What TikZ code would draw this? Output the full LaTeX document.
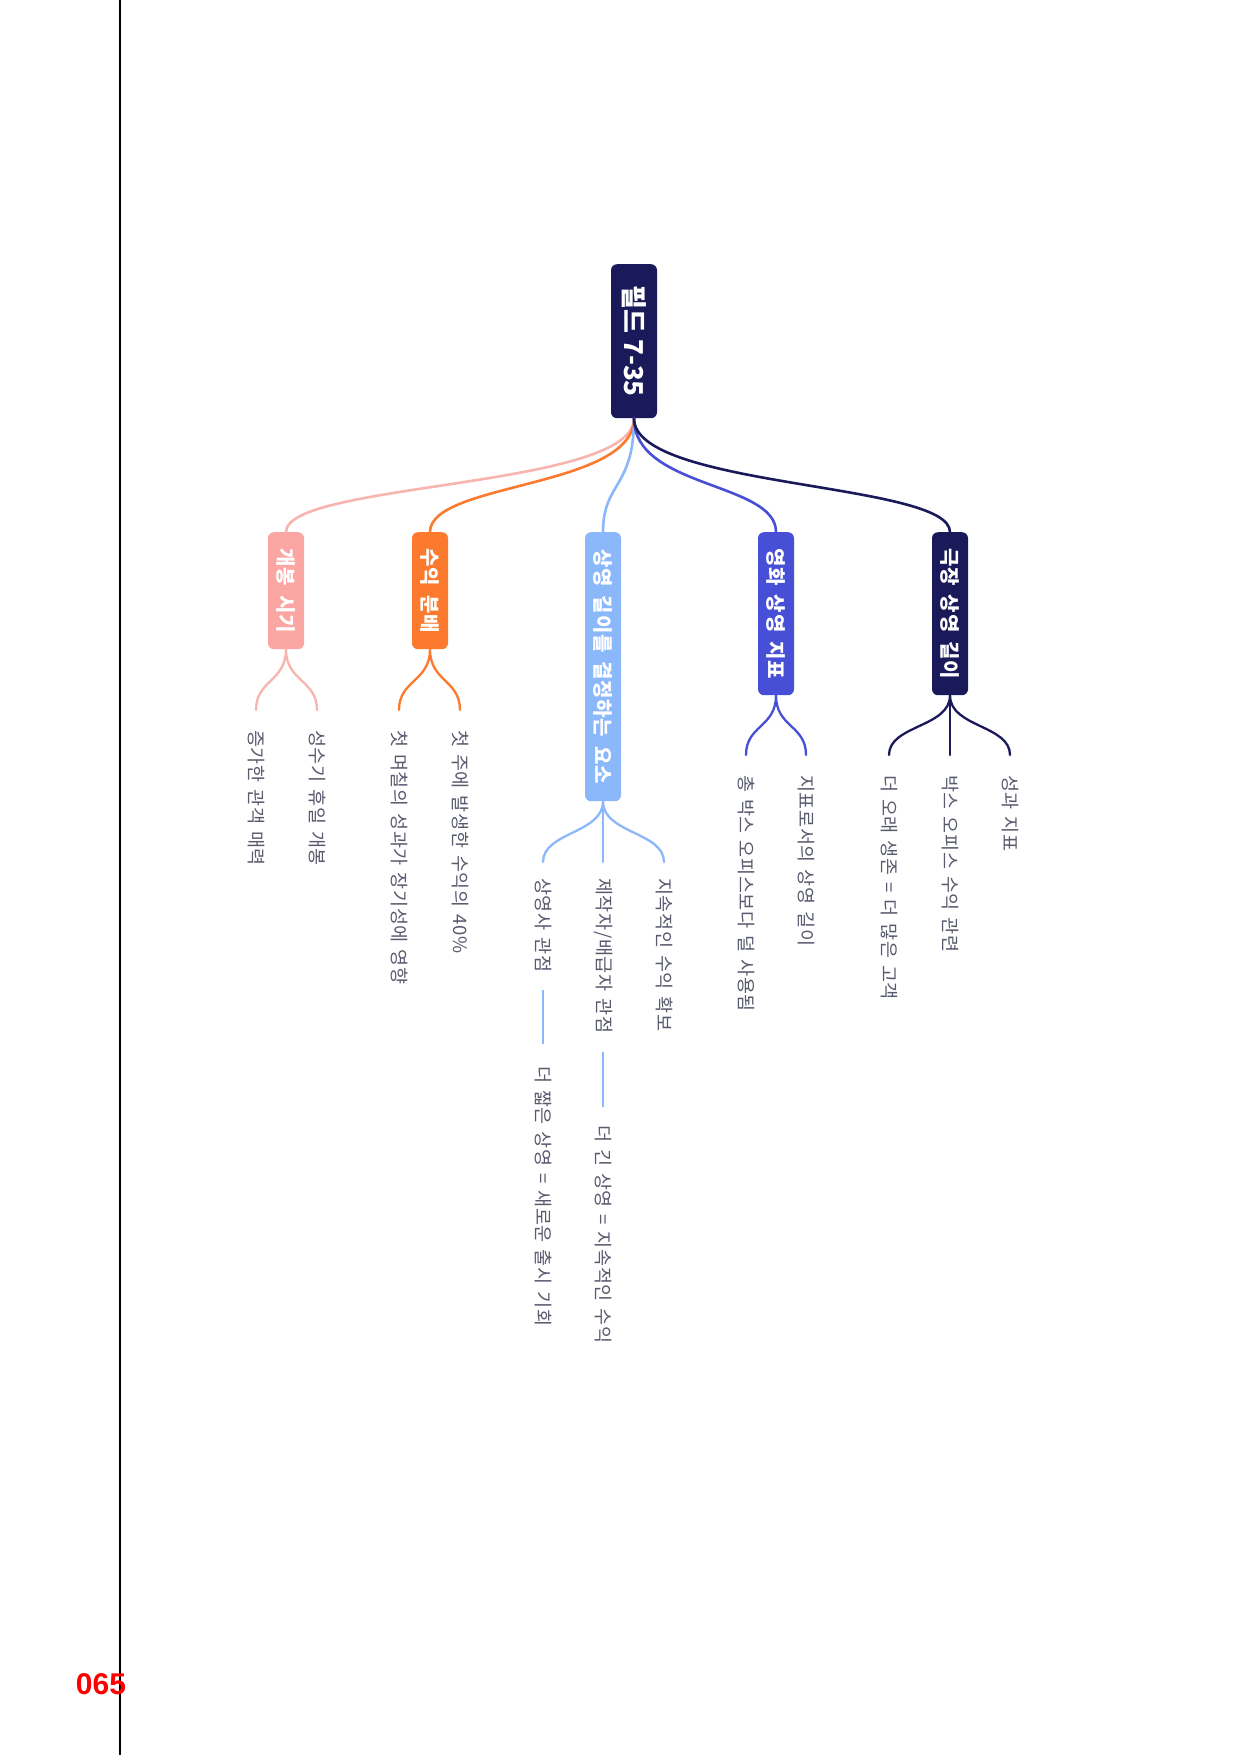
\documentclass[tikz,border=0pt]{standalone}
\usepackage{fontspec}
\setmainfont{Liberation Sans}
\newfontfamily\kr{Noto Sans CJK KR}
\newfontfamily\krl[LetterSpace=4,WordSpace=1.6]{Noto Sans CJK KR}
\newfontfamily\krleaf[LetterSpace=3.5,WordSpace=1.45]{Noto Sans CJK KR}
\definecolor{cpink}{HTML}{FBA6A2}
\definecolor{cpinkl}{HTML}{F8B5AF}
\definecolor{corange}{HTML}{FB7A2E}
\definecolor{clblue}{HTML}{8BB7FB}
\definecolor{cblue}{HTML}{474FD6}
\definecolor{cnavy}{HTML}{1A1A5B}
\definecolor{ctext}{HTML}{585A6E}
\definecolor{cred}{HTML}{FF0000}
\tikzset{
  box/.style={rotate=-90, anchor=west, rounded corners=6pt, inner sep=0pt, text=white,
    font=\krl\bfseries\fontsize{20}{20}\selectfont, minimum height=36pt},
  leaf/.style={rotate=-90, anchor=west, inner sep=0pt, text=ctext,
    font=\krleaf\fontsize{18.5}{19}\selectfont},
  conn/.style={line width=2.6pt, line cap=round},
  subconn/.style={line width=2.3pt, line cap=round},
}
\begin{document}
\begin{tikzpicture}[x=1pt,y=-1pt]
\fill[white] (0,0) rectangle (1241,1755);
\useasboundingbox (0,0) rectangle (1241,1755);
\draw[line width=1.2pt, black] (120,0) -- (120,1755);
\node[text=cred, font=\bfseries\fontsize{30}{30}\selectfont, inner sep=0pt] (pg) at (101,1684) {065};

% root
\node[box, fill=cnavy, minimum width=154pt, minimum height=46pt,
  font=\kr\bfseries\fontsize{26}{26}\selectfont] (root) at (634,264) {필드 7-35};

% branches
\node[box, fill=cpink, minimum width=117pt] (b1) at (286,532) {개봉 시기};
\node[box, fill=corange, minimum width=117pt] (b2) at (430,532) {수익 분배};
\node[box, fill=clblue, minimum width=269pt] (b3) at (603,532) {상영 길이를 결정하는 요소};
\node[box, fill=cblue, minimum width=163pt] (b4) at (776,532) {영화 상영 지표};
\node[box, fill=cnavy, minimum width=163pt] (b5) at (950,532) {극장 상영 길이};

\draw[conn, cpinkl] (root.east) .. controls +(0,70) and +(0,-50) .. (b1.west);
\draw[conn, corange] (root.east) .. controls +(0,70) and +(0,-50) .. (b2.west);
\draw[conn, clblue] (root.east) .. controls +(0,70) and +(0,-50) .. (b3.west);
\draw[conn, cblue] (root.east) .. controls +(0,70) and +(0,-50) .. (b4.west);
\draw[conn, cnavy] (root.east) .. controls +(0,70) and +(0,-50) .. (b5.west);

% leaves
\node[leaf] (l11) at (317,730) {성수기 휴일 개봉};
\node[leaf] (l12) at (256,730) {증가한 관객 매력};
\node[leaf] (l21) at (460,730) {첫 주에 발생한 수익의 40\%};
\node[leaf] (l22) at (399,730) {첫 며칠의 성과가 장기성에 영향};
\node[leaf] (l31) at (664,878) {지속적인 수익 확보};
\node[leaf] (l32) at (603,878) {제작자/배급자 관점};
\node[leaf] (l33) at (543,878) {상영사 관점};
\node[leaf] (l32b) at (603,1125) {더 긴 상영 = 지속적인 수익};
\node[leaf] (l33b) at (543,1066) {더 짧은 상영 = 새로운 출시 기회};
\node[leaf] (l41) at (806,775) {지표로서의 상영 길이};
\node[leaf] (l42) at (746,775) {총 박스 오피스보다 덜 사용됨};
\node[leaf] (l51) at (1010,775) {성과 지표};
\node[leaf] (l52) at (950,775) {박스 오피스 수익 관련};
\node[leaf] (l53) at (889,775) {더 오래 생존 = 더 많은 고객};

% sub connectors
\draw[subconn, cpinkl] (b1.east) .. controls +(0,32) and +(0,-30) .. ([yshift=20pt]l11.west);
\draw[subconn, cpinkl] (b1.east) .. controls +(0,32) and +(0,-30) .. ([yshift=20pt]l12.west);
\draw[subconn, corange] (b2.east) .. controls +(0,32) and +(0,-30) .. ([yshift=20pt]l21.west);
\draw[subconn, corange] (b2.east) .. controls +(0,32) and +(0,-30) .. ([yshift=20pt]l22.west);
\draw[subconn, clblue] (b3.east) .. controls +(0,32) and +(0,-30) .. ([yshift=16pt]l31.west);
\draw[subconn, clblue] (b3.east) -- ([yshift=16pt]l32.west);
\draw[subconn, clblue] (b3.east) .. controls +(0,32) and +(0,-30) .. ([yshift=16pt]l33.west);
\draw[subconn, cblue] (b4.east) .. controls +(0,32) and +(0,-30) .. ([yshift=20pt]l41.west);
\draw[subconn, cblue] (b4.east) .. controls +(0,32) and +(0,-30) .. ([yshift=20pt]l42.west);
\draw[subconn, cnavy] (b5.east) .. controls +(0,32) and +(0,-30) .. ([yshift=20pt]l51.west);
\draw[subconn, cnavy] (b5.east) -- ([yshift=20pt]l52.west);
\draw[subconn, cnavy] (b5.east) .. controls +(0,32) and +(0,-30) .. ([yshift=20pt]l53.west);

\draw[line width=2pt, clblue] ([yshift=-19pt]l32.east) -- ([yshift=18pt]l32b.west);
\draw[line width=2pt, clblue] ([yshift=-18pt]l33.east) -- ([yshift=22pt]l33b.west);
\end{tikzpicture}
\end{document}
